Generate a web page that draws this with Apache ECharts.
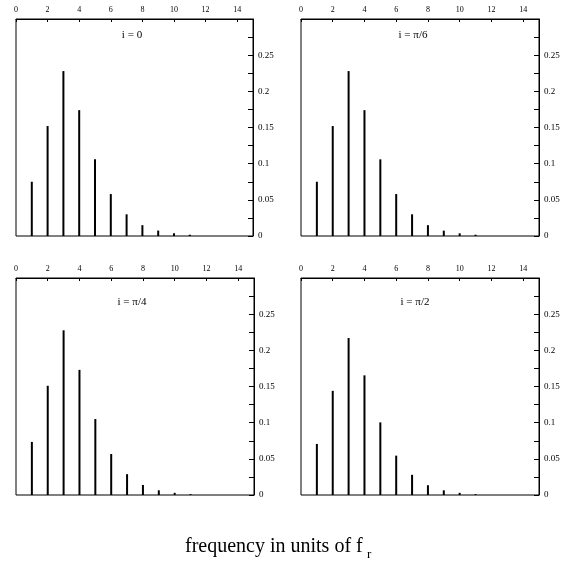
<!DOCTYPE html>
<html>
<head>
<meta charset="utf-8">
<script src="https://cdn.jsdelivr.net/npm/echarts@6/dist/echarts.min.js"></script>
<style>html,body{margin:0;padding:0;background:#fff}#c{width:566px;height:571px}</style>
</head>
<body>
<div id="c"></div>
<script>
// ---- data ----
var freqs = [1, 2, 3, 4, 5, 6, 7, 8, 9, 10, 11];
var valuesI0   = [0.075, 0.152, 0.228, 0.174, 0.106, 0.058, 0.030, 0.015, 0.0075, 0.0037, 0.0018];
var valuesPi6  = [0.075, 0.152, 0.228, 0.174, 0.106, 0.058, 0.030, 0.015, 0.0074, 0.0037, 0.0018];
var valuesPi4  = [0.0734, 0.151, 0.2277, 0.173, 0.105, 0.0567, 0.0288, 0.0139, 0.0065, 0.003, 0.0012];
var valuesPi2  = [0.0706, 0.144, 0.217, 0.1654, 0.1004, 0.0544, 0.0279, 0.0135, 0.0065, 0.003, 0.0012];
var panelTitles = ['i = 0', 'i = \u03c0/6', 'i = \u03c0/4', 'i = \u03c0/2'];
var xTickLabels = [0, 2, 4, 6, 8, 10, 12, 14];
var yTickLabels = ['0', '0.05', '0.1', '0.15', '0.2', '0.25'];
var xLabelText = 'frequency in units of f';
var xLabelSub = 'r';

var seriesValues = [valuesI0, valuesPi6, valuesPi4, valuesPi2];
var FONT = '"Liberation Serif", "Times New Roman", serif';

var gridPos = [
  {left: 16, top: 19, width: 237, height: 217},
  {left: 301, top: 19, width: 238, height: 217},
  {left: 16, top: 278, width: 238, height: 217},
  {left: 301, top: 278, width: 238, height: 217}
];
var titlePos = [[132, 35], [413, 35], [132, 302], [415, 302]];

var grids = [], xAxes = [], yAxes = [], series = [], graphics = [];
for (var k = 0; k < 4; k++) {
  grids.push(Object.assign({show: true, borderColor: '#000', borderWidth: 1, backgroundColor: 'transparent'}, gridPos[k]));
  xAxes.push({
    type: 'value', gridIndex: k, min: 0, max: 15, interval: 2, position: 'top',
    axisLine: {show: true, onZero: false, lineStyle: {color: '#000', width: 1}},
    axisTick: {show: true, inside: true, length: 3, lineStyle: {color: '#000'}},
    splitLine: {show: false},
    axisLabel: {
      fontFamily: FONT, fontSize: 8, color: '#000', margin: 5,
      showMinLabel: true, showMaxLabel: false, hideOverlap: false,
      formatter: function (v) { return xTickLabels.indexOf(v) >= 0 ? String(v) : ''; }
    }
  });
  yAxes.push({
    type: 'value', gridIndex: k, min: 0, max: 0.3, interval: 0.025, position: 'right',
    axisLine: {show: true, onZero: false, lineStyle: {color: '#000', width: 1}},
    axisTick: {show: true, inside: true, length: 5, lineStyle: {color: '#000'}},
    splitLine: {show: false},
    axisLabel: {
      fontFamily: FONT, fontSize: 9, color: '#000', margin: 5,
      showMinLabel: true, showMaxLabel: false, hideOverlap: false,
      formatter: function (v) {
        var m = Math.round(v * 1000);
        if (m % 50 !== 0) return '';
        var idx = m / 50;
        return idx < yTickLabels.length ? yTickLabels[idx] : '';
      }
    }
  });
  var vals = seriesValues[k];
  series.push({
    type: 'bar', xAxisIndex: k, yAxisIndex: k, barWidth: 2,
    itemStyle: {color: '#000'}, silent: true, animation: false,
    data: freqs.map(function (f, i) { return [f, vals[i]]; })
  });
  graphics.push({
    type: 'text', x: titlePos[k][0], y: titlePos[k][1],
    style: {text: panelTitles[k], font: '11px ' + FONT, fill: '#000', textAlign: 'center', textVerticalAlign: 'middle'}
  });
}
graphics.push({
  type: 'text', x: 185, y: 547,
  style: {text: xLabelText, font: '20px ' + FONT, fill: '#000', textAlign: 'left', textVerticalAlign: 'middle'}
});
graphics.push({
  type: 'text', x: 367, y: 555,
  style: {text: xLabelSub, font: '13px ' + FONT, fill: '#000', textAlign: 'left', textVerticalAlign: 'middle'}
});

var chart = echarts.init(document.getElementById('c'), null, {renderer: 'canvas'});
chart.setOption({
  animation: false,
  backgroundColor: '#fff',
  grid: grids, xAxis: xAxes, yAxis: yAxes, series: series, graphic: graphics
});
</script>
</body>
</html>
